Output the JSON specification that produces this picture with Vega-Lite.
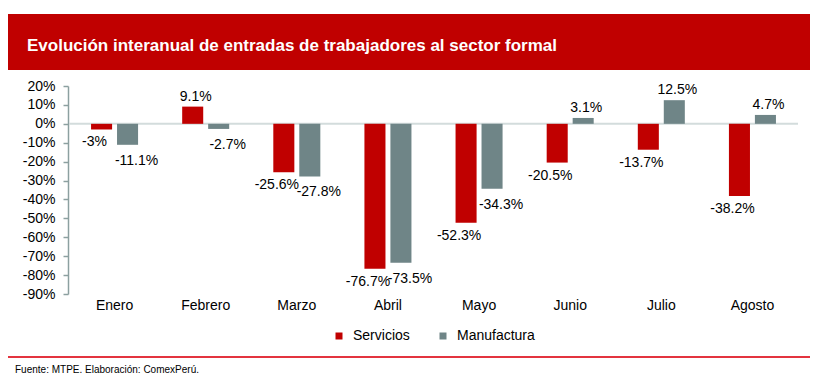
{
  "$schema": "https://vega.github.io/schema/vega-lite/v6.json",
  "padding": {"left": 8, "top": 14, "right": 6, "bottom": 0},
  "background": "white",
  "config": {
    "font": "Liberation Sans",
    "view": {"stroke": null},
    "axis": {"labelFont": "Liberation Sans", "labelColor": "#000000"},
    "legend": {"labelFont": "Liberation Sans", "layout": {"bottom": {"anchor": "middle"}}},
    "title": {"font": "Liberation Sans"}
  },
  "spacing": 9,
  "vconcat": [
    {
      "width": 802,
      "height": 56,
      "view": {"fill": "#C00000", "stroke": null},
      "data": {"values": [{}]},
      "mark": {"type": "point", "opacity": 0},
      "encoding": {},
      "title": {
        "text": "Evolución interanual de entradas de trabajadores al sector formal",
        "orient": "top",
        "anchor": "start",
        "baseline": "middle",
        "offset": -49,
        "dx": 19,
        "color": "#FFFFFF",
        "fontSize": 17,
        "fontWeight": "bold"
      }
    },
    {
      "spacing": 11,
      "vconcat": [
        {
          "spacing": -2,
          "resolve": {"scale": {"color": "independent"}, "legend": {"color": "independent"}},
          "hconcat": [
            {
              "width": 60,
              "height": 208,
              "data": {"values": [{"cero": 0}]},
              "mark": {"type": "rule", "opacity": 0},
              "encoding": {
                "y": {
                  "field": "cero",
                  "type": "quantitative",
                  "scale": {"domain": [-90, 20], "nice": false, "zero": false},
                  "axis": {
                    "title": null,
                    "orient": "left",
                    "offset": -60,
                    "values": [20, 10, 0, -10, -20, -30, -40, -50, -60, -70, -80, -90],
                    "labelExpr": "datum.value + '%'",
                    "labelOverlap": false,
                    "labelFontSize": 14,
                    "labelColor": "#000000",
                    "labelPadding": 8,
                    "tickSize": 5,
                    "tickColor": "#8CA0A0",
                    "domainColor": "#8CA0A0",
                    "domainWidth": 1.5,
                    "tickWidth": 1.5,
                    "grid": false
                  }
                }
              }
            },
            {
              "width": 729,
              "height": 208,
              "data": {
                "values": [
                  {"mes": "Enero", "sector": "Servicios", "valor": -3, "etiqueta": "-3%"},
                  {"mes": "Enero", "sector": "Manufactura", "valor": -11.1, "etiqueta": "-11.1%"},
                  {"mes": "Febrero", "sector": "Servicios", "valor": 9.1, "etiqueta": "9.1%"},
                  {"mes": "Febrero", "sector": "Manufactura", "valor": -2.7, "etiqueta": "-2.7%"},
                  {"mes": "Marzo", "sector": "Servicios", "valor": -25.6, "etiqueta": "-25.6%"},
                  {"mes": "Marzo", "sector": "Manufactura", "valor": -27.8, "etiqueta": "-27.8%"},
                  {"mes": "Abril", "sector": "Servicios", "valor": -76.7, "etiqueta": "-76.7%"},
                  {"mes": "Abril", "sector": "Manufactura", "valor": -73.5, "etiqueta": "-73.5%"},
                  {"mes": "Mayo", "sector": "Servicios", "valor": -52.3, "etiqueta": "-52.3%"},
                  {"mes": "Mayo", "sector": "Manufactura", "valor": -34.3, "etiqueta": "-34.3%"},
                  {"mes": "Junio", "sector": "Servicios", "valor": -20.5, "etiqueta": "-20.5%"},
                  {"mes": "Junio", "sector": "Manufactura", "valor": 3.1, "etiqueta": "3.1%"},
                  {"mes": "Julio", "sector": "Servicios", "valor": -13.7, "etiqueta": "-13.7%"},
                  {"mes": "Julio", "sector": "Manufactura", "valor": 12.5, "etiqueta": "12.5%"},
                  {"mes": "Agosto", "sector": "Servicios", "valor": -38.2, "etiqueta": "-38.2%"},
                  {"mes": "Agosto", "sector": "Manufactura", "valor": 4.7, "etiqueta": "4.7%"}
                ]
              },
              "layer": [
                {
                  "data": {"values": [{"cero": 0}]},
                  "mark": {"type": "rule", "color": "#D3DCDC", "strokeWidth": 2},
                  "encoding": {
                    "y": {
                      "field": "cero",
                      "type": "quantitative",
                      "scale": {"domain": [-90, 20], "nice": false, "zero": false},
                      "axis": null
                    }
                  }
                },
                {
                  "encoding": {
                    "x": {
                      "field": "mes",
                      "type": "nominal",
                      "sort": ["Enero", "Febrero", "Marzo", "Abril", "Mayo", "Junio", "Julio", "Agosto"],
                      "scale": {"paddingInner": 0.484, "paddingOuter": 0.242},
                      "axis": {
                        "title": null,
                        "domain": false,
                        "ticks": false,
                        "labelAngle": 0,
                        "labelPadding": 4,
                        "labelFontSize": 14,
                        "labelColor": "#000000"
                      }
                    },
                    "xOffset": {
                      "field": "sector",
                      "type": "nominal",
                      "sort": ["Servicios", "Manufactura"],
                      "scale": {"paddingInner": 0.19, "paddingOuter": 0}
                    }
                  },
                  "layer": [
                    {
                      "mark": {"type": "bar"},
                      "encoding": {
                        "y": {"field": "valor", "type": "quantitative", "scale": {"domain": [-90, 20], "nice": false, "zero": false}, "axis": null},
                        "color": {
                          "field": "sector",
                          "type": "nominal",
                          "sort": ["Servicios", "Manufactura"],
                          "scale": {"domain": ["Servicios", "Manufactura"], "range": ["#C00000", "#6F8587"]},
                          "legend": {
                            "title": null,
                            "orient": "bottom",
                            "direction": "horizontal",
                            "symbolType": "square",
                            "symbolSize": 49,
                            "symbolStrokeWidth": 0,
                            "labelFontSize": 14,
                            "labelColor": "#000000",
                            "labelOffset": 7,
                            "columnPadding": 26,
                            "offset": 17
                          }
                        }
                      }
                    },
                    {
                      "transform": [{"filter": "datum.valor >= 0"}],
                      "mark": {"type": "text", "baseline": "bottom", "dy": -3, "dx": 3, "fontSize": 14, "color": "#000000"},
                      "encoding": {
                        "y": {"field": "valor", "type": "quantitative"},
                        "text": {"field": "etiqueta", "type": "nominal"}
                      }
                    },
                    {
                      "transform": [{"filter": "datum.valor < 0 && datum.sector == 'Servicios'"}],
                      "mark": {"type": "text", "baseline": "top", "dy": 6, "dx": -7, "fontSize": 14, "color": "#000000"},
                      "encoding": {
                        "y": {"field": "valor", "type": "quantitative"},
                        "text": {"field": "etiqueta", "type": "nominal"}
                      }
                    },
                    {
                      "transform": [{"filter": "datum.valor < 0 && datum.sector == 'Manufactura'"}],
                      "mark": {"type": "text", "baseline": "top", "dy": 9, "dx": 9, "fontSize": 14, "color": "#000000"},
                      "encoding": {
                        "y": {"field": "valor", "type": "quantitative"},
                        "text": {"field": "etiqueta", "type": "nominal"}
                      }
                    }
                  ]
                }
              ]
            }
          ]
        },
        {
          "width": 802,
          "height": 2,
          "view": {"fill": "#E3343F", "stroke": null},
          "data": {"values": [{}]},
          "mark": {"type": "point", "opacity": 0},
          "encoding": {},
          "title": {
            "text": "Fuente: MTPE. Elaboración: ComexPerú.",
            "orient": "bottom",
            "anchor": "start",
            "baseline": "top",
            "offset": 5,
            "dx": 7,
            "color": "#000000",
            "fontSize": 10,
            "fontWeight": "normal"
          }
        }
      ]
    }
  ]
}
